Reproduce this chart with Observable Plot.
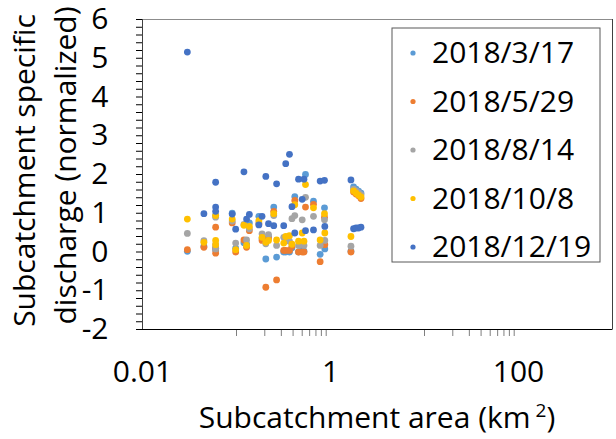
<!DOCTYPE html>
<html>
<head>
<meta charset="utf-8">
<script src="https://cdn.jsdelivr.net/npm/d3@7"></script>
<script src="https://cdn.jsdelivr.net/npm/@observablehq/plot@0.6"></script>
<style>
  html, body { margin: 0; padding: 0; background: #fff; }
  #chart { width: 616px; height: 439px; }
</style>
</head>
<body>
<div id="chart"></div>
<script>
// ---- data ----
const dates = ["2018/3/17", "2018/5/29", "2018/8/14", "2018/10/8", "2018/12/19"];
const colors = ["#5B9BD5", "#ED7D31", "#A5A5A5", "#FFC000", "#4472C4"];

// subcatchment areas (km2)
const area = [0.030, 0.045, 0.060, 0.060, 0.060, 0.090, 0.098, 0.120, 0.128, 0.137,
              0.173, 0.187, 0.205, 0.219, 0.249, 0.267, 0.318, 0.334, 0.366, 0.389,
              0.417, 0.457, 0.500, 0.522, 0.542, 0.659, 0.776, 0.863, 0.870, 1.65,
              1.76, 1.87, 1.99, 2.11];

const q0317 = [0.02, 0.15, 0.95, 0.05, 0.10, 1.00, 0.10, 0.24, 0.20, 0.75,
               0.92, 0.35, -0.18, 0.40, 1.16, -0.13, 0.00, 0.00, 0.00, 0.11,
               1.43, 0.00, 0.05, 0.02, 2.00, 1.31, -0.06, 1.14, 0.08, 0.02,
               1.68, 1.62, 1.57, 1.52];
const q0529 = [0.06, 0.12, 0.64, -0.03, 0.10, 0.75, 0.00, 0.31, 0.12, 0.55,
               0.72, 0.30, -0.91, 0.35, 1.05, -0.72, 0.04, 0.04, 0.04, 0.15,
               1.33, 0.00, 0.00, 0.00, 1.16, 1.23, -0.25, 0.90, 0.19, 0.00,
               1.55, 1.50, 1.45, 1.38];
const q0814 = [0.48, 0.29, 0.90, 0.19, 0.08, 0.80, 0.23, 0.71, 0.31, 0.60,
               0.75, 0.47, 0.21, 0.45, 0.94, 0.17, 0.38, 0.32, 0.28, 0.86,
               0.94, 0.17, 0.83, 0.17, 1.41, 0.92, 0.17, 0.83, 0.30, 0.15,
               1.62, 1.58, 1.53, 1.48];
const q1008 = [0.85, 0.25, 0.94, 0.30, 0.19, 0.85, 0.06, 0.69, 0.17, 0.66,
               0.81, 0.38, 0.25, 0.30, 0.99, 0.31, 0.23, 0.40, 0.42, 0.20,
               1.22, 0.28, 0.49, 0.28, 1.74, 1.14, 0.31, 0.99, 0.49, 0.40,
               1.58, 1.52, 1.47, 1.42];
const q1219 = [5.16, 0.99, 1.80, 1.16, 1.05, 0.98, 0.59, 2.07, 0.85, 0.97,
               0.70, 0.92, 1.95, 0.73, 0.68, 1.76, 0.68, 2.28, 2.52, 1.17,
               0.49, 1.88, 1.36, 1.88, 0.55, 0.57, 1.83, 1.85, 0.66, 1.86,
               0.60, 0.62, 0.62, 0.64];

const xTicks = [0.01, 1, 100];
const xTickLabels = ["0.01", "1", "100"];
const xMinor = [0.1, 0.2, 0.3, 0.4, 0.5, 0.6, 0.7, 0.8, 0.9, 10, 20, 30, 40, 50, 60, 70, 80, 90];
const yMajor = [-2, -1, 0, 1, 2, 3, 4, 5, 6];
const yTickLabels = ["-2", "-1", "0", "1", "2", "3", "4", "5", "6"];
const yTicks = d3.range(-10, 31).map(i => i / 5);

const xTitle = "Subcatchment area (km";
const yTitle1 = "Subcatchment specific";
const yTitle2 = "discharge (normalized)";

// ---- build table ----
const series = [q0317, q0529, q0814, q1008, q1219];
const rows = [];
series.forEach((vals, s) => {
  vals.forEach((v, i) => rows.push({date: dates[s], area: area[i], q: v}));
});

const xLab = new Map(xTicks.map((t, i) => [t, xTickLabels[i]]));
const yLab = (d) => {
  const r = Math.round(d);
  if (Math.abs(d - r) > 1e-9) return "";
  const k = yMajor.indexOf(r);
  return k >= 0 ? yTickLabels[k] : "";
};

const FONT = "'Open Sans', Lato, sans-serif";
const FS = 30;
const ML = 142, MR = 4, MT = 19, MB = 110, W = 616, H = 439;

const svg = Plot.plot({
  width: W, height: H,
  marginLeft: ML, marginRight: MR, marginTop: MT, marginBottom: MB,
  style: {fontFamily: FONT, fontSize: FS + "px", background: "white", color: "black", overflow: "visible"},
  x: {type: "log", domain: [0.01, 1000], ticks: xTicks, tickFormat: d => xLab.get(d) ?? "", tickSize: 0, tickPadding: 31, label: null},
  y: {domain: [-2, 6], ticks: yTicks, tickFormat: yLab, tickSize: 6, tickPadding: 28, label: null},
  color: {domain: dates, range: colors},
  marks: [
    Plot.frame({stroke: "#8c8c8c"}),
    Plot.ruleX(xMinor, {y1: -2, y2: -2, insetBottom: -7, stroke: "#7f7f7f"}),
    Plot.ruleX([0.01], {stroke: "#404040"}),
    Plot.ruleX([1000], {stroke: "#404040"}),
    Plot.ruleY([-2], {stroke: "#000"}),
    Plot.dot(rows, {x: "area", y: "q", fill: "date", r: 3.4}),
    Plot.text([yTitle1], {frameAnchor: "left", textAnchor: "middle", rotate: -90, dx: -117, dy: -4, fontSize: FS, fontFamily: FONT, fill: "black"}),
    Plot.text([yTitle2], {frameAnchor: "left", textAnchor: "middle", rotate: -90, dx: -76, dy: -9, fontSize: FS, fontFamily: FONT, fill: "black"})
  ]
});

document.getElementById("chart").appendChild(svg);

// ---- x title with superscript ----
const root = d3.select(svg);
const plotCx = ML + (W - ML - MR) / 2;
const xt = root.append("text")
  .attr("x", plotCx).attr("y", H - MB + 99)
  .attr("text-anchor", "middle")
  .style("font-family", FONT).style("font-size", FS + "px").attr("fill", "black");
xt.append("tspan").text(xTitle + "\u2009");
xt.append("tspan").attr("dy", -11).style("font-size", "19px").text("2");
xt.append("tspan").attr("dy", 11).text(")");

// ---- legend ----
const lx = ML + 250, ly = MT + 9, lw = 208, lh = 234;
const lg = root.append("g").attr("text-anchor", "start");
lg.append("rect").attr("x", lx).attr("y", ly).attr("width", lw).attr("height", lh)
  .attr("fill", "white").attr("stroke", "#595959").attr("stroke-width", 1);
dates.forEach((d, i) => {
  const base = ly + 35 + i * 48.5;
  lg.append("circle").attr("cx", lx + 21).attr("cy", base - 10).attr("r", 2.6).attr("fill", colors[i]);
  lg.append("text").attr("x", lx + 40).attr("y", base).attr("text-anchor", "start")
    .style("font-family", FONT).style("font-size", FS + "px").attr("fill", "black").text(d);
});
</script>
</body>
</html>
